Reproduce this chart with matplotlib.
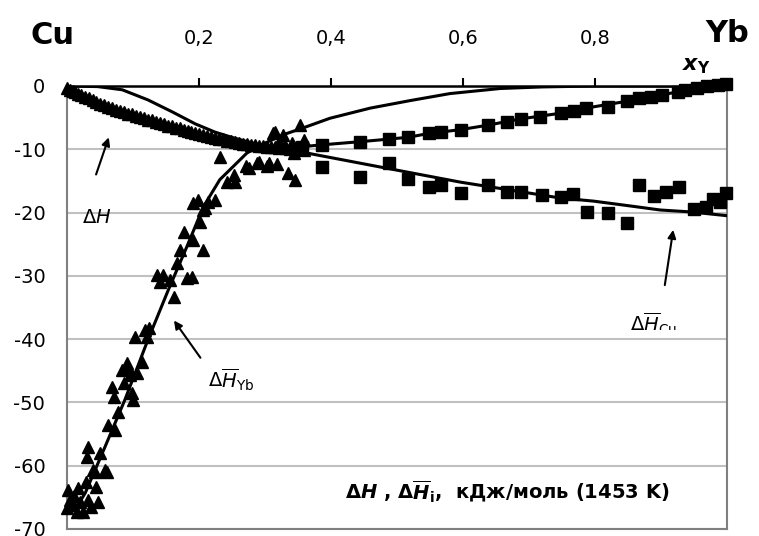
import matplotlib
matplotlib.use('Agg')
import matplotlib.pyplot as plt
from matplotlib.transforms import Bbox, TransformedBbox

plt.rcParams['font.family'] = ['DejaVu Sans']
plt.rcParams['mathtext.fontset'] = 'custom'
plt.rcParams['mathtext.rm'] = 'DejaVu Sans'
plt.rcParams['mathtext.it'] = 'DejaVu Sans:italic'
plt.rcParams['mathtext.bf'] = 'DejaVu Sans:bold'
plt.rcParams['mathtext.bfit'] = 'DejaVu Sans:bold:italic'

# integral enthalpy, triangles (x < 0.36)
dh_tri_x = [0.000, 0.004, 0.008, 0.012, 0.016, 0.020, 0.026, 0.032, 0.038, 0.044,
            0.050, 0.056, 0.062, 0.068, 0.074, 0.080, 0.086, 0.092, 0.098, 0.104,
            0.110, 0.116, 0.122, 0.128, 0.134, 0.140, 0.146, 0.152, 0.158, 0.164,
            0.170, 0.176, 0.182, 0.188, 0.194, 0.200, 0.206, 0.212, 0.218, 0.224,
            0.230, 0.236, 0.242, 0.248, 0.254, 0.260, 0.266, 0.272, 0.278, 0.284,
            0.290, 0.296, 0.302, 0.308, 0.314, 0.320, 0.326, 0.332, 0.338, 0.344,
            0.350, 0.356]
dh_tri_y = [-0.3, -0.6, -0.8, -1.0, -1.3, -1.4, -1.7, -1.9, -2.2, -2.5,
            -2.8, -3.0, -3.3, -3.5, -3.8, -4.0, -4.1, -4.4, -4.5, -4.8,
            -4.9, -5.1, -5.3, -5.4, -5.7, -5.9, -6.0, -6.3, -6.4, -6.6,
            -6.7, -6.9, -7.1, -7.2, -7.4, -7.6, -7.7, -7.9, -8.0, -8.2,
            -8.4, -8.4, -8.7, -8.7, -8.9, -9.0, -9.1, -9.2, -9.3, -9.4,
            -9.5, -9.5, -9.6, -9.7, -9.6, -9.8, -9.7, -9.8, -9.9, -9.6,
            -9.8, -10.0]

# integral enthalpy, squares (x > 0.35)
dh_sq_x = [0.355, 0.386, 0.444, 0.487, 0.517, 0.548, 0.566, 0.596, 0.637, 0.667,
           0.687, 0.717, 0.748, 0.768, 0.786, 0.820, 0.849, 0.866, 0.884, 0.902,
           0.925, 0.937, 0.955, 0.970, 0.986, 0.998]
dh_sq_y = [-9.6, -9.3, -8.8, -8.4, -8.1, -7.5, -7.2, -6.9, -6.2, -5.7,
           -5.2, -4.9, -4.3, -4.0, -3.5, -3.3, -2.4, -1.9, -1.7, -1.4,
           -1.0, -0.6, -0.3, 0.0, 0.2, 0.3]

# partial enthalpy of Yb, triangles
yb_x = [0.000, 0.001, 0.004, 0.008, 0.010, 0.014, 0.016, 0.019, 0.024, 0.028,
        0.031, 0.036, 0.044, 0.046, 0.030, 0.031, 0.039, 0.042, 0.049, 0.057,
        0.060, 0.062, 0.068, 0.070, 0.072, 0.077, 0.083, 0.085, 0.090, 0.092,
        0.095, 0.098, 0.100, 0.105, 0.113, 0.102, 0.118, 0.120, 0.123, 0.136,
        0.140, 0.145, 0.156, 0.161, 0.166, 0.181, 0.189, 0.171, 0.176, 0.191,
        0.206, 0.201, 0.206, 0.191, 0.198, 0.209, 0.213, 0.224, 0.232, 0.242,
        0.252, 0.254, 0.270, 0.275, 0.288, 0.291, 0.302, 0.305, 0.318, 0.335,
        0.345, 0.312, 0.315, 0.327, 0.353, 0.343, 0.358, 0.358, 0.340, 0.330,
        0.320]
yb_y = [-66.7, -63.8, -65.4, -66.2, -64.8, -67.3, -63.5, -65.7, -67.3, -62.6,
        -65.4, -66.5, -63.3, -65.7, -58.6, -57.0, -60.7, -61.0, -58.0, -60.7,
        -61.0, -53.6, -47.5, -49.1, -54.3, -51.5, -44.9, -46.9, -43.8, -44.4,
        -45.7, -48.5, -49.6, -45.4, -43.6, -39.7, -38.5, -39.7, -38.2, -29.9,
        -31.0, -29.9, -30.6, -33.3, -28.0, -30.3, -30.2, -25.9, -23.0, -24.3,
        -25.9, -21.5, -19.6, -18.5, -18.0, -19.3, -18.3, -18.0, -11.2, -15.1,
        -14.0, -15.2, -12.7, -13.0, -12.2, -12.0, -12.7, -12.2, -12.4, -13.8,
        -14.8, -7.4, -7.2, -7.7, -6.2, -10.6, -8.5, -10.1, -9.0, -9.5,
        -8.8]

# partial enthalpy of Cu, squares
cu_x = [0.386, 0.444, 0.487, 0.517, 0.548, 0.566, 0.596, 0.637, 0.667, 0.687,
        0.720, 0.748, 0.766, 0.788, 0.819, 0.849, 0.866, 0.889, 0.907, 0.927,
        0.950, 0.968, 0.978, 0.990, 0.998]
cu_y = [-12.8, -14.4, -12.1, -14.7, -16.0, -15.7, -16.9, -15.6, -16.7, -16.7,
        -17.2, -17.5, -17.1, -19.9, -20.1, -21.6, -15.6, -17.4, -16.8, -15.9,
        -19.4, -19.1, -17.8, -18.3, -16.9]

# fitted curves
dh_line_x = [0.0, 0.05, 0.10, 0.15, 0.20, 0.25, 0.30, 0.355, 0.386, 0.444, 0.487,
             0.517, 0.548, 0.596, 0.637, 0.687, 0.748, 0.786, 0.849, 0.902, 0.955, 1.0]
dh_line_y = [0.0, -2.8, -4.6, -6.2, -7.6, -8.8, -9.6, -9.6, -9.3, -8.8, -8.4,
             -8.1, -7.5, -6.9, -6.2, -5.2, -4.3, -3.5, -2.4, -1.4, -0.3, 0.2]

cu_line_x = [0.0, 0.046, 0.083, 0.122, 0.159, 0.194, 0.224, 0.252, 0.29, 0.353,
             0.474, 0.596, 0.747, 0.798, 0.849, 0.899, 0.945, 1.0]
cu_line_y = [0.0, -0.1, -0.6, -2.2, -4.1, -6.0, -7.3, -8.2, -9.3, -10.4,
             -12.8, -15.2, -17.7, -18.2, -18.9, -19.6, -19.9, -20.5]

yb_line_x = [0.02, 0.027, 0.057, 0.087, 0.122, 0.153, 0.181, 0.206, 0.231, 0.272,
             0.30, 0.33, 0.358, 0.398, 0.459, 0.52, 0.58, 0.656, 0.72, 0.8, 1.0]
yb_line_y = [-65.5, -64.3, -57.0, -49.6, -40.1, -32.2, -25.4, -19.1, -14.8, -10.6,
             -9.0, -7.6, -6.6, -5.1, -3.5, -2.3, -1.2, -0.4, -0.15, 0.0, 0.0]

x_ticks = [0.2, 0.4, 0.6, 0.8]
x_ticklabels = ['0,2', '0,4', '0,6', '0,8']
y_ticks = [0, -10, -20, -30, -40, -50, -60, -70]

fig = plt.figure(figsize=(7.59, 5.36), dpi=100)
ax = fig.add_axes([0.0889, 0.0131, 0.869, 0.8265])

grey = '#808080'
ax.set_xlim(0, 1)
ax.set_ylim(-70, 0)
ax.set_yticks(y_ticks)
ax.set_yticklabels([str(v) for v in y_ticks])
ax.yaxis.grid(True, color='#c0c0c0', lw=1.5)
ax.set_axisbelow(True)
ax.xaxis.tick_top()
ax.set_xticks(x_ticks)
ax.set_xticklabels(x_ticklabels)
ax.tick_params(axis='x', direction='out', length=6, width=1.5, pad=21, labelsize=14)
ax.tick_params(axis='y', length=0, pad=16, labelsize=14)
ax.spines['top'].set_color('black')
ax.spines['top'].set_linewidth(1.8)
for s in ['left', 'right', 'bottom']:
    ax.spines[s].set_color(grey)
    ax.spines[s].set_linewidth(1.5)

lw = 2.2
ax.plot(dh_line_x, dh_line_y, color='black', lw=lw, zorder=3)
ax.plot(cu_line_x, cu_line_y, color='black', lw=lw, zorder=3)
ax.plot(yb_line_x, yb_line_y, color='black', lw=lw, zorder=3)
ax.plot(dh_tri_x, dh_tri_y, '^', color='black', ms=9, ls='none', clip_on=False, zorder=4)
ax.plot(yb_x, yb_y, '^', color='black', ms=9, ls='none', clip_on=False, zorder=4)
ax.plot(dh_sq_x, dh_sq_y, 's', color='black', ms=8.5, ls='none', clip_on=False, zorder=4)
ax.plot(cu_x, cu_y, 's', color='black', ms=8.5, ls='none', clip_on=False, zorder=4)

arrow = dict(arrowstyle='-|>', color='black', lw=1.5, mutation_scale=12)
ax.annotate('', xy=(0.064, -7.7), xytext=(0.042, -14.4), arrowprops=arrow)
ax.text(0.045, -20.8, r'$\Delta H$', fontsize=14, ha='center', va='center')

ax.annotate('', xy=(0.159, -36.7), xytext=(0.204, -43.3), arrowprops=arrow)
ax.text(0.213, -46.4, r'$\Delta\overline{H}_{\mathrm{Yb}}$', fontsize=14, ha='left', va='center')

ax.annotate('', xy=(0.919, -22.3), xytext=(0.905, -31.9), arrowprops=arrow)
t = ax.text(0.853, -37.6, r'$\Delta\overline{H}_{\mathrm{Cu}}$', fontsize=14, ha='left', va='center')
t.set_clip_box(TransformedBbox(Bbox([[0.8, -38.5], [1.0, -30.0]]), ax.transData))
t.set_clip_on(True)

ax.text(0.421, -64.0,
        r'$\mathbf{\Delta}\mathbfit{H}$ , $\mathbf{\Delta}\overline{\mathbfit{H}}_{\mathbf{i}}$,  кДж/моль (1453 K)',
        fontsize=14, fontweight='bold', ha='left', va='center')

fig.text(30 / 759, 1 - 44 / 536, 'Cu', fontsize=22, fontweight='bold', va='baseline')
fig.text(705 / 759, 1 - 42 / 536, 'Yb', fontsize=22, fontweight='bold', va='baseline')
fig.text(682 / 759, 1 - 70 / 536, r'$\mathbfit{x}_{\mathbf{Y}}$', fontsize=16, va='baseline')

fig.savefig('out.png', dpi=100)
